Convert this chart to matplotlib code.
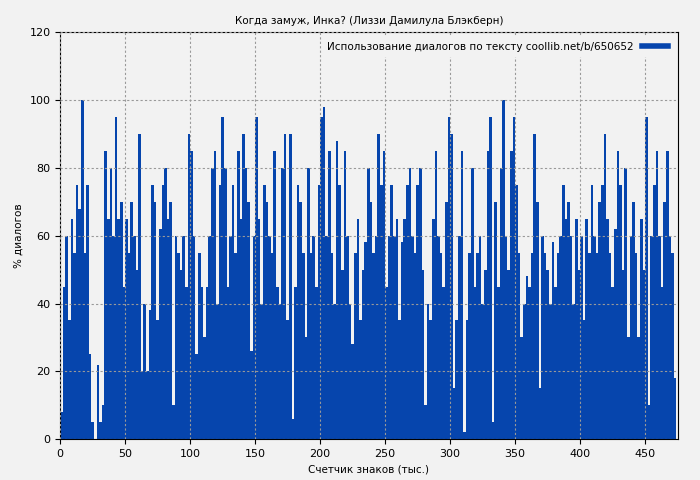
import numpy as np
import matplotlib.pyplot as plt
from matplotlib.lines import Line2D

# percent of dialogue per 2k-character chunk
dialog_pct = [
    8, 45, 60, 35, 65, 55, 75, 68, 100, 55, 75, 25, 5, 0, 22, 5, 10, 85, 65, 80,
    60, 95, 65, 70, 45, 65, 55, 70, 60, 50, 90, 20, 40, 20, 38, 75, 70, 35, 62, 75,
    80, 65, 70, 10, 60, 55, 50, 60, 45, 90, 85, 60, 25, 55, 45, 30, 45, 60, 80, 85,
    40, 75, 95, 80, 45, 60, 75, 55, 85, 65, 90, 80, 70, 26, 60, 95, 65, 40, 75, 70,
    60, 55, 85, 45, 40, 80, 90, 35, 90, 6, 45, 75, 70, 55, 30, 80, 55, 60, 45, 75,
    95, 98, 60, 85, 55, 40, 88, 75, 50, 85, 60, 40, 28, 55, 65, 35, 50, 58, 80, 70,
    55, 60, 90, 75, 85, 45, 60, 75, 60, 65, 35, 58, 65, 75, 80, 60, 55, 75, 80, 50,
    10, 40, 35, 65, 85, 60, 55, 45, 70, 95, 90, 15, 35, 60, 85, 2, 35, 55, 80, 45,
    55, 60, 40, 50, 85, 95, 5, 70, 45, 80, 100, 60, 50, 85, 95, 75, 55, 30, 40, 48,
    45, 55, 90, 70, 15, 60, 55, 50, 40, 58, 45, 55, 60, 75, 65, 70, 60, 40, 65, 50,
    60, 35, 65, 55, 75, 60, 55, 70, 75, 90, 65, 55, 45, 62, 85, 75, 50, 80, 30, 60,
    70, 55, 30, 65, 50, 95, 10, 60, 75, 85, 60, 45, 70, 85, 60, 55, 18,
]
chunk_k = 2  # thousand characters per bar

bg = '#f2f2f2'
blue = '#0645ad'

fig, ax = plt.subplots(figsize=(7, 4.8), dpi=100)
fig.patch.set_facecolor(bg)
ax.set_facecolor(bg)

x = np.arange(len(dialog_pct)) * chunk_k
ax.bar(x, dialog_pct, width=chunk_k, align='edge', color=blue, linewidth=0)

ax.set_xlim(0, 475)
ax.set_ylim(0, 120)
ax.set_xticks(range(0, 451, 50))
ax.set_yticks(range(0, 121, 20))
ax.tick_params(labelsize=8)
ax.grid(True, color='#999999', linestyle=(0, (2, 2)), linewidth=0.8)
ax.set_axisbelow(False)

ax.set_title('Когда замуж, Инка? (Лиззи Дамилула Блэкберн)', fontsize=7.5)
ax.set_xlabel('Счетчик знаков (тыс.)', fontsize=7.5)
ax.set_ylabel('% диалогов', fontsize=7.5)

handle = Line2D([], [], color=blue, linewidth=4)
leg = ax.legend([handle], ['Использование диалогов по тексту coollib.net/b/650652'],
                loc='upper right', fontsize=7.5, frameon=True, facecolor=bg,
                edgecolor=bg, framealpha=1, markerfirst=False, handlelength=2.5)

plt.subplots_adjust(left=0.086, right=0.968, top=0.933, bottom=0.085)
plt.savefig('out.png', dpi=100, facecolor=bg)
